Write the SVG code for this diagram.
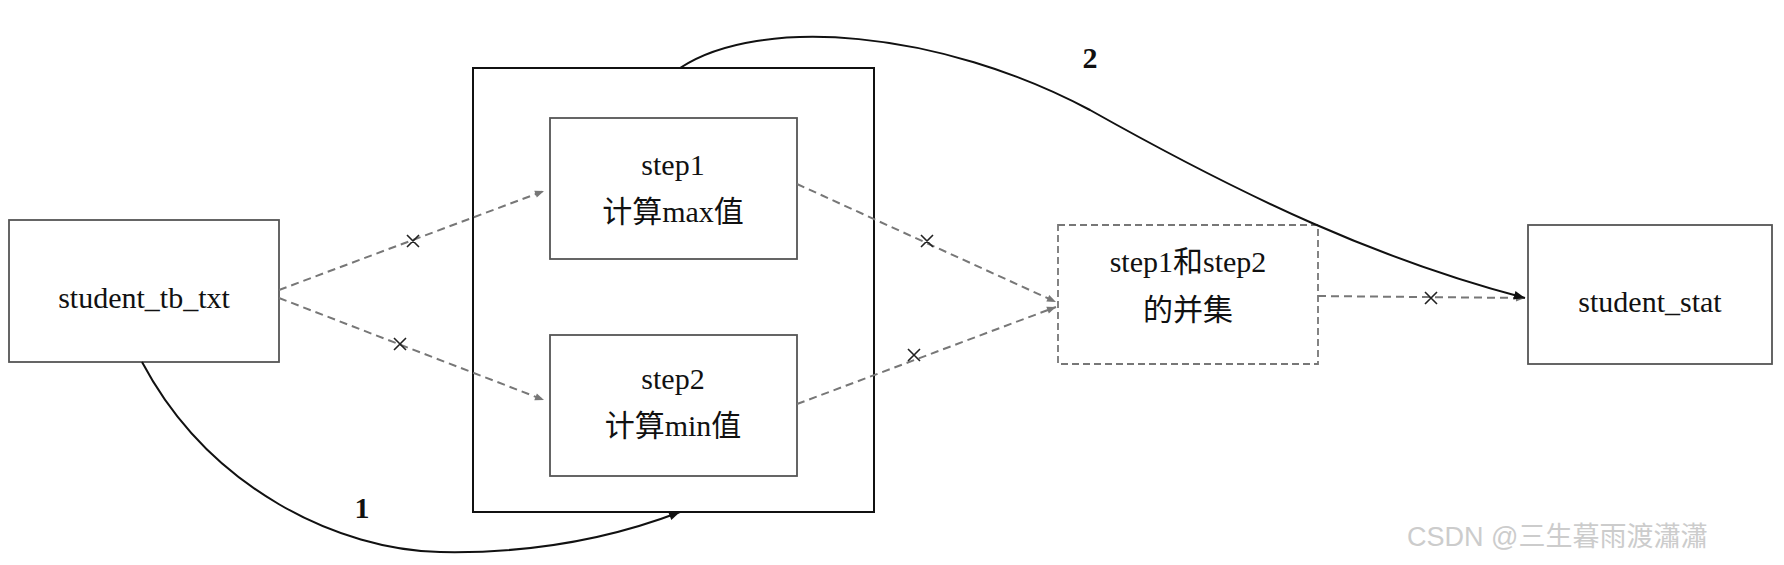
<svg xmlns="http://www.w3.org/2000/svg" width="1784" height="565" viewBox="0 0 1784 565">
<style>
.b{fill:#fff;stroke:#555;stroke-width:1.8}
.t{font-family:"Liberation Serif","Noto Sans CJK SC",serif;font-size:30px;fill:#111;text-anchor:middle}
.d{fill:none;stroke:#777;stroke-width:2;stroke-dasharray:8,5}
.s{fill:none;stroke:#111;stroke-width:2}
.x{stroke:#222;stroke-width:1.6}
</style>
<defs>
<marker id="ag" viewBox="0 0 10 10" refX="10" refY="5" markerWidth="12" markerHeight="9" markerUnits="userSpaceOnUse" orient="auto"><path d="M0,1L10,5L0,9z" fill="#777"/></marker>
<marker id="ab" viewBox="0 0 10 10" refX="10" refY="5" markerWidth="22" markerHeight="11" markerUnits="userSpaceOnUse" orient="auto"><path d="M0,1L10,5L0,9z" fill="#111"/></marker>
</defs>
<rect width="1784" height="565" fill="#fff"/>
<g id="container"><rect x="473" y="68" width="401" height="444" fill="#fff" stroke="#111" stroke-width="2"/></g>
<g id="n_src"><rect class="b" x="9" y="220" width="270" height="142"/><text class="t" x="144" y="308">student_tb_txt</text></g>
<g id="n_step1"><rect class="b" x="550" y="118" width="247" height="141"/><text class="t" x="673" y="175">step1</text><text class="t" x="673" y="222">计算max值</text></g>
<g id="n_step2"><rect class="b" x="550" y="335" width="247" height="141"/><text class="t" x="673" y="389">step2</text><text class="t" x="673" y="436">计算min值</text></g>
<g id="n_union"><rect x="1058" y="225" width="260" height="139" fill="#fff" stroke="#777" stroke-width="1.8" stroke-dasharray="7,4"/><text class="t" x="1188" y="272">step1和step2</text><text class="t" x="1188" y="320">的并集</text></g>
<g id="n_stat"><rect class="b" x="1528" y="225" width="244" height="139"/><text class="t" x="1650" y="312">student_stat</text></g>
<g id="connectors">
<path class="d" d="M279,290L544,191" marker-end="url(#ag)"/>
<path class="d" d="M279,298L544,400" marker-end="url(#ag)"/>
<path class="d" d="M797,184L1056,302" marker-end="url(#ag)"/>
<path class="d" d="M797,404L1056,307" marker-end="url(#ag)"/>
<path class="d" d="M1318,296L1525,298" marker-end="url(#ag)"/>
<path class="x" d="M407,235l12,12M419,235l-12,12M394,338l12,12M406,338l-12,12M921,235l12,12M933,235l-12,12M908,349l12,12M920,349l-12,12M1425,292l12,12M1437,292l-12,12"/>
<path class="s" d="M142,362C210,490 340,550 440,552C540,554 620,535 680,512" marker-end="url(#ab)"/>
<path class="s" d="M680,68C760,15 940,30 1090,110C1250,200 1380,260 1525,298" marker-end="url(#ab)"/>
<text class="t" x="362" y="518" font-weight="bold">1</text>
<text class="t" x="1090" y="68" font-weight="bold">2</text>
</g>
<text x="1407" y="546" font-family="Liberation Sans,Noto Sans CJK SC,sans-serif" font-size="27" fill="#ccc">CSDN @三生暮雨渡瀟瀟</text>
</svg>
